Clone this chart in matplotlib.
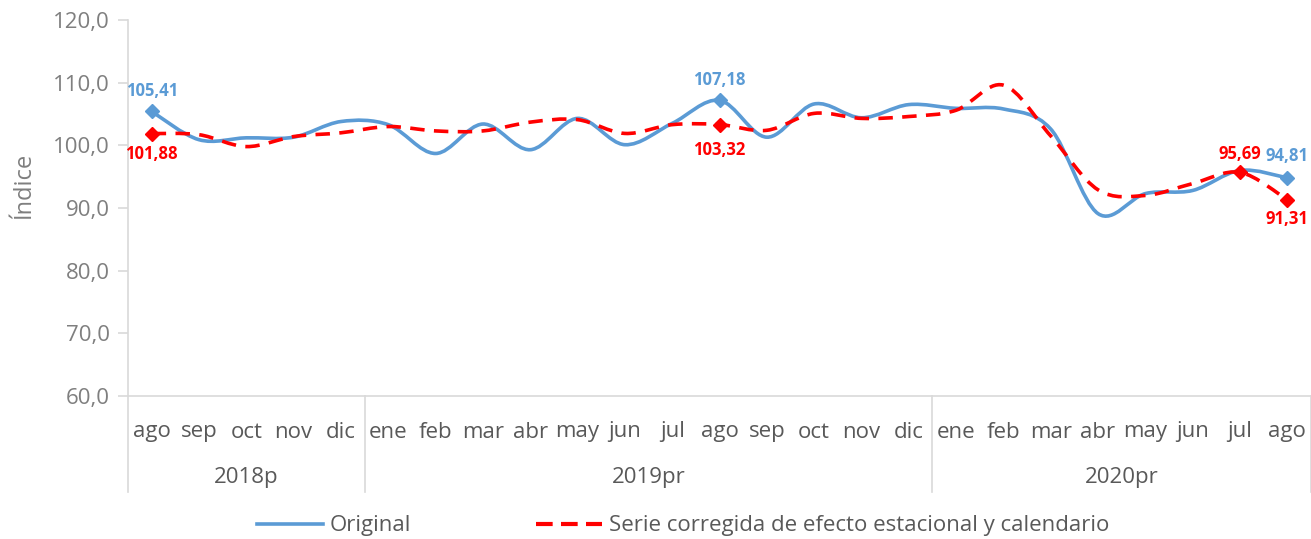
import numpy as np
import matplotlib.pyplot as plt
from matplotlib.path import Path
from matplotlib.patches import PathPatch
from matplotlib.lines import Line2D

plt.rcParams['font.family'] = ['Open Sans', 'DejaVu Sans']

months = ["ago", "sep", "oct", "nov", "dic",
          "ene", "feb", "mar", "abr", "may", "jun", "jul", "ago", "sep", "oct", "nov", "dic",
          "ene", "feb", "mar", "abr", "may", "jun", "jul", "ago"]
years = ["2018p", "2019pr", "2020pr"]
year_sizes = [5, 12, 8]

original = [105.41, 100.9, 101.2, 101.3, 103.8,
            103.3, 98.7, 103.4, 99.3, 104.3, 100.1, 103.5, 107.18, 101.3, 106.6, 104.4, 106.5,
            105.9, 105.8, 102.6, 89.1, 92.3, 92.8, 96.0, 94.81]
ajustada = [101.88, 101.7, 99.8, 101.4, 102.0,
            103.0, 102.3, 102.3, 103.7, 104.1, 101.9, 103.3, 103.32, 102.4, 105.1, 104.3, 104.6,
            105.6, 109.6, 101.5, 92.9, 92.0, 93.9, 95.69, 91.31]

# index: (text, vertical offset in points)
blue_lbl = {0: ("105,41", 8), 12: ("107,18", 8), 24: ("94,81", 9)}
red_lbl = {0: ("101,88", -8), 12: ("103,32", -12), 23: ("95,69", 7), 24: ("91,31", -7)}

BLUE = "#5B9BD5"
RED = "#FF0000"
GREY = "#595959"
LGREY = "#7F7F7F"
AX = "#D9D9D9"


def smooth_path(x, y):
    # Excel-style smoothed line: cubic bezier through the points
    pts = np.column_stack([np.asarray(x, float), np.asarray(y, float)])
    verts = [pts[0]]
    codes = [Path.MOVETO]
    n = len(pts)
    for i in range(n - 1):
        p0 = pts[i - 1] if i > 0 else pts[i]
        p1 = pts[i]
        p2 = pts[i + 1]
        p3 = pts[i + 2] if i + 2 < n else pts[i + 1]
        verts += [p1 + (p2 - p0) / 6, p2 - (p3 - p1) / 6, p2]
        codes += [Path.CURVE4] * 3
    return Path(verts, codes)


fig = plt.figure(figsize=(13.11, 5.39), dpi=100)
ax = fig.add_axes([128 / 1311, 1 - 396 / 539, 1 - 128 / 1311, (396 - 20) / 539])

x = np.arange(len(months))
dash = (0, (4, 2.6))
ax.add_patch(PathPatch(smooth_path(x, original), fill=False, edgecolor=BLUE, lw=2.6,
                       capstyle='round', zorder=3))
ax.add_patch(PathPatch(smooth_path(x, ajustada), fill=False, edgecolor=RED, lw=2.6,
                       linestyle=dash, zorder=4))

for i, (t, dy) in blue_lbl.items():
    ax.plot(x[i], original[i], marker='D', ms=7, color=BLUE, zorder=5)
    ax.annotate(t, (x[i], original[i]), xytext=(0, dy), textcoords='offset points',
                ha='center', va='bottom', color=BLUE, fontsize=12, fontweight='bold')
for i, (t, dy) in red_lbl.items():
    ax.plot(x[i], ajustada[i], marker='D', ms=7, color=RED, zorder=6)
    ax.annotate(t, (x[i], ajustada[i]), xytext=(0, dy), textcoords='offset points',
                ha='center', va='bottom' if dy > 0 else 'top', color=RED,
                fontsize=12, fontweight='bold')

ax.set_xlim(-0.5, len(months) - 0.5)
ax.set_ylim(60, 120)
ticks = np.arange(60, 121, 10)
ax.set_yticks(ticks)
ax.set_yticklabels([f"{v:.1f}".replace(".", ",") for v in ticks])
ax.tick_params(axis='y', colors=AX, labelcolor=LGREY, labelsize=16, length=7, width=1.2, pad=6)
ax.set_xticks([])
ax.set_ylabel("Índice", color=LGREY, fontsize=17)
ax.yaxis.set_label_coords(-92 / 1183, (396 - 185) / 376)

for s in ['top', 'right']:
    ax.spines[s].set_visible(False)
for s in ['left', 'bottom']:
    ax.spines[s].set_color(AX)
    ax.spines[s].set_linewidth(1.2)

# two-level category axis
trans = ax.get_xaxis_transform()
for i, m in enumerate(months):
    ax.text(i, -36 / 376, m, transform=trans, ha='center', va='center',
            fontsize=16, color=GREY)
edges = np.concatenate([[0], np.cumsum(year_sizes)]) - 0.5
for e in edges:
    ax.add_line(Line2D([e, e], [0, -96 / 376], transform=trans, color=AX, lw=1.2,
                       clip_on=False))
for k, yname in enumerate(years):
    ax.text((edges[k] + edges[k + 1]) / 2, -82 / 376, yname, transform=trans,
            ha='center', va='center', fontsize=16, color=GREY)

handles = [Line2D([], [], color=BLUE, lw=2.6),
           Line2D([], [], color=RED, lw=3, linestyle=(0, (4, 2)))]
fig.legend(handles, ["Original", "Serie corregida de efecto estacional y calendario"],
           loc='center', bbox_to_anchor=(683 / 1311, 13 / 539), ncol=2,
           frameon=False, fontsize=16, labelcolor=GREY, handlelength=3.0,
           handletextpad=0.3, columnspacing=5.6)

fig.savefig("out.png", dpi=100)
